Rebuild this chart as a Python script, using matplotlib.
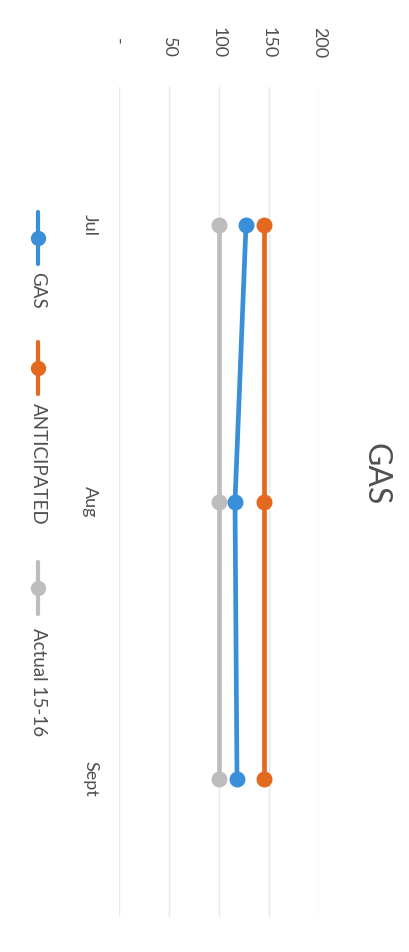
import matplotlib.pyplot as plt

# chart data (scanned page is rotated 90 deg clockwise)
months = ['Jul', 'Aug', 'Sept']
gas = [127, 116, 118]
anticipated = [145, 145, 145]
actual_15_16 = [100, 100, 100]
value_ticks = [0, 50, 100, 150, 200]
value_labels = ['-   ', '50', '100', '150', '200']

series = [
    ('GAS', gas, '#3a8fda'),
    ('ANTICIPATED', anticipated, '#e3691f'),
    ('Actual 15-16', actual_15_16, '#bdbdbd'),
]

plt.rcParams['font.family'] = ['Lato', 'DejaVu Sans']
text_color = '#505050'

fig = plt.figure(figsize=(4.09, 9.52), dpi=100)
fig.patch.set_facecolor('white')

W, H = 409, 952
ax = fig.add_axes([119 / W, 35 / H, 200 / W, 830 / H])

y = list(range(len(months)))
# draw in reverse so GAS sits on top like the original
for name, vals, color in reversed(series):
    ax.plot(vals, y, color=color, lw=3.4, marker='o', markersize=10.5,
            solid_capstyle='round', zorder=3)

ax.set_xlim(0, 200)
ax.set_ylim(len(months) - 0.5, -0.5)
ax.set_xticks(value_ticks)
ax.set_xticklabels(value_labels)
ax.set_yticks(y)
ax.set_yticklabels(months)
ax.xaxis.tick_top()
ax.tick_params(axis='x', length=0, pad=21, labelsize=13, labelcolor=text_color,
               labelrotation=-90)
ax.tick_params(axis='y', length=0, pad=15, labelsize=13, labelcolor=text_color,
               labelrotation=-90)
for lbl in ax.get_yticklabels():
    lbl.set_verticalalignment('center')
ax.grid(axis='x', color='#e4eaf3', lw=1.0)
ax.set_axisbelow(True)
for s in ax.spines.values():
    s.set_visible(False)

# overlay in pixel coordinates for title and rotated legend
lax = fig.add_axes([0, 0, 1, 1])
lax.set_xlim(0, W)
lax.set_ylim(H, 0)
lax.axis('off')

lax.text(375, 474, 'GAS', rotation=-90, ha='center', va='center',
         fontsize=23, color=text_color)

legend_pos = [(238, 290), (368, 464), (588, 682)]
for (name, vals, color), (my, ty) in zip(series, legend_pos):
    lax.plot([38, 38], [my - 26, my + 26], color=color, lw=3.0,
             solid_capstyle='round')
    lax.plot([38], [my], color=color, marker='o', markersize=10)
    lax.text(38, ty, name, rotation=-90, ha='center', va='center',
             fontsize=13.5, color=text_color)

fig.savefig('out.png', dpi=100)
